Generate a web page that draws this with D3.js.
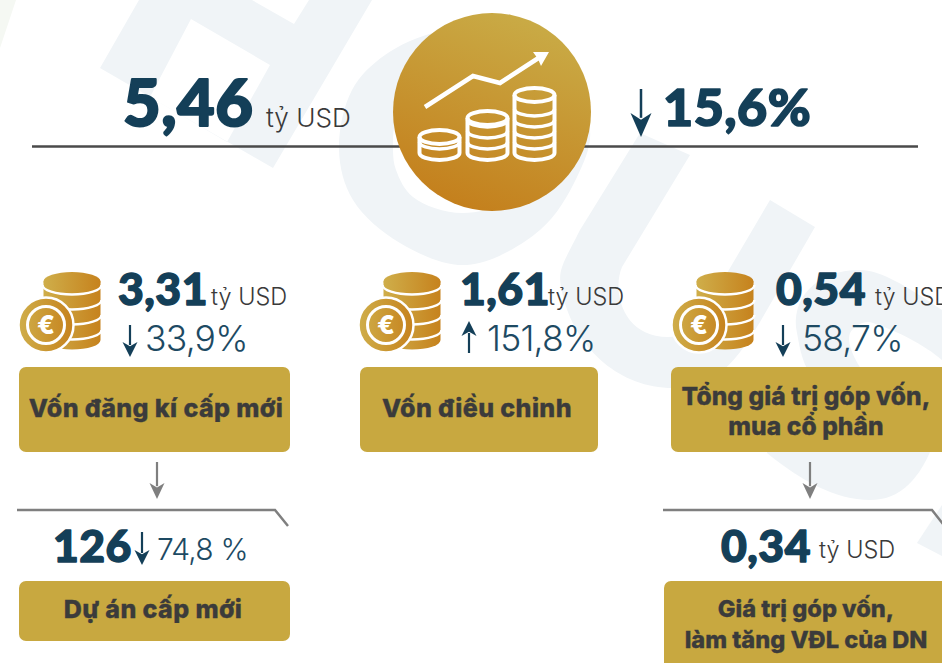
<!DOCTYPE html>
<html lang="vi"><head><meta charset="utf-8">
<script src="https://cdn.jsdelivr.net/npm/d3@7"></script>
<style>
html,body{margin:0;padding:0;background:#fff;overflow:hidden}
svg{display:block}
.num{font-family:Lato,Inter,sans-serif;font-weight:900;fill:#143f58;stroke:#143f58;stroke-linejoin:round;letter-spacing:.5px}
.unit{font-family:Inter,"Noto Sans",sans-serif;font-weight:300;fill:#3a3a3a}
.pct{font-family:Inter,"Noto Sans",sans-serif;font-weight:300;fill:#1d4a63;letter-spacing:-.8px}
.lab{font-family:Inter,"Noto Sans",sans-serif;font-weight:800;fill:#3b3b3b;text-anchor:middle;stroke:#3b3b3b;stroke-width:.35px}
</style></head><body><svg id="c" width="942" height="663"></svg>
<script>
// ---- data
const unitLabel = "tỷ USD";
const totalValue = 5.46;
const totalChange = -15.6;
const categories = ["Vốn đăng kí cấp mới", "Vốn điều chỉnh", "Tổng giá trị góp vốn,|mua cổ phần"];
const categoryValues = [3.31, 1.61, 0.54];
const categoryChanges = [-33.9, 151.8, -58.7];
const subLabels = ["Dự án cấp mới", "Giá trị góp vốn,|làm tăng VĐL của DN"];
const subValues = ["126", 0.34];
const subChanges = [-74.8, null];

// ---- layout
const svg = d3.select("#c");
const loc = d3.formatLocale({decimal:",",thousands:".",grouping:[3],currency:["",""]});
const f2 = loc.format(".2f"), f1 = loc.format(".1f");
const GOLD = "#c8a840", NAVY = "#143f58", GREY = "#7f7f7f";

const defs = svg.append("defs");
function grad(id,x1,y1,x2,y2,a,b){
  const g = defs.append("linearGradient").attr("id",id).attr("x1",x1).attr("y1",y1).attr("x2",x2).attr("y2",y2);
  g.append("stop").attr("offset",0).attr("stop-color",a);
  g.append("stop").attr("offset",1).attr("stop-color",b);
}
grad("gCirc",0.7,0.05,0.35,1,"#c9aa45","#c47f1c");
grad("gCoin",0,0,1,0,"#cfae4a","#c6821d");

function num(g,x,y,size,txt){
  return g.append("text").attr("class","num").attr("x",x).attr("y",y).attr("font-size",size)
    .attr("stroke-width",size*0.032).text(txt);
}

// ---- watermark
const wm = svg.append("g").attr("fill","#f0f4f7");
const closed = d3.line().curve(d3.curveCatmullRomClosed.alpha(0.5));
wm.append("path").attr("fill","#f5f8f3").attr("d","M0 0L16 0L0 48Z");
wm.append("path").attr("fill-rule","evenodd").attr("d",
 "M139 0L100 68L273 168L372 0L309 0L294 24L252 0Z M191 19L270 65L227 142L150 97Z");
wm.append("path").attr("fill-rule","evenodd").attr("d",
  closed([[339,150],[352,90],[385,55],[437,32],[500,30],[560,70],[590,130],[577,177],[540,230],[467,265],[400,243],[353,200]]) +
  closed([[393,150],[396,120],[420,80],[470,60],[530,80],[565,130],[530,190],[463,213],[413,197],[396,170]]));
wm.append("path").attr("d",
 "M640 133L690 155L622 267C612 290 622 337 668 337C690 337 705 318 720 285L770 200L815 227L760 322C730 372 710 388 673 388C620 388 578 350 564 300C556 270 560 270 580 230Z");
wm.append("path").attr("fill-rule","evenodd").attr("d",
 "M942 310C905 285 880 270 860 270C815 270 790 300 797 333C800 350 803 367 815 380L900 380L942 400Z M850 333C855 325 865 320 873 323C895 330 925 345 942 360L942 380L870 380C860 370 845 345 850 333Z");
wm.append("path").attr("d","M767 440L935 440C920 480 900 500 870 500C835 500 800 480 767 453Z");
wm.append("path").attr("d","M917 543L942 505L942 556Z");

// ---- arrows
function arrow(g,x,y0,y1,hw,hl,color,sw){ // from y0 (tail) to y1 (tip)
  const dir = y1>y0?1:-1;
  g.append("line").attr("x1",x).attr("x2",x).attr("y1",y0).attr("y2",y1-dir*hl*0.8)
    .attr("stroke",color).attr("stroke-width",sw);
  g.append("path").attr("fill",color)
    .attr("d",`M${x-hw} ${y1-dir*hl}L${x} ${y1-dir*hl*0.72}L${x+hw} ${y1-dir*hl}L${x} ${y1}Z`);
}

// ---- header
const head = svg.append("g");
head.append("line").attr("x1",32).attr("x2",918).attr("y1",146.5).attr("y2",146.5).attr("stroke","#4a4a4a").attr("stroke-width",2.5);
num(head,123,126,65,f2(totalValue));
head.append("text").attr("class","unit").attr("x",266).attr("y",127).attr("font-size",26.2).text(unitLabel);
num(head,663,126,52,f1(Math.abs(totalChange))+"%");
arrow(head,641,89,137,10.5,24,NAVY,2.5);

// central badge
const badge = head.append("g");
badge.append("circle").attr("cx",492).attr("cy",112).attr("r",99).attr("fill","url(#gCirc)");
badge.append("path").attr("fill","none").attr("stroke","#fff").attr("stroke-width",4.5)
  .attr("d","M425 107L473 76L500 83L540 57");
badge.append("path").attr("fill","#fff").attr("d","M533 52L549 52L541 66L538 59Z");
const stackX = [418,466,513], stackTop=[137,118,95], stackArcs=[1,3,4];
stackX.forEach((x,i)=>{
  const rx=20, ry=7, cx=x+21.5, bot=153, top=stackTop[i];
  const g = badge.append("g").attr("fill","none").attr("stroke","#fff").attr("stroke-width",4);
  g.append("ellipse").attr("cx",cx).attr("cy",top).attr("rx",rx).attr("ry",ry);
  g.append("path").attr("d",`M${cx-rx} ${top}L${cx-rx} ${bot}A${rx} ${ry} 0 0 0 ${cx+rx} ${bot}L${cx+rx} ${top}`);
  d3.range(stackArcs[i]).forEach(k=>{
    const y = bot-11*(k+1);
    g.append("path").attr("stroke-width",3.5).attr("d",`M${cx-rx} ${y}A${rx} ${ry} 0 0 0 ${cx+rx} ${y}`);
  });
});

// ---- coin icon
function coinIcon(g,left,top){
  const cx=left+52, rx=28.5, ry=9.5, t=top+9.5, b=top+68;
  g.append("path").attr("fill","url(#gCoin)")
    .attr("d",`M${cx-rx} ${t}L${cx-rx} ${b}A${rx} ${ry} 0 0 0 ${cx+rx} ${b}L${cx+rx} ${t}Z`);
  g.append("ellipse").attr("cx",cx).attr("cy",t).attr("rx",rx).attr("ry",ry).attr("fill","url(#gCoin)");
  [0,1,2,3].forEach(k=>{
    const y=t+3.5+k*15;
    g.append("path").attr("fill","none").attr("stroke","#fff").attr("stroke-width",2.4)
      .attr("d",`M${cx-rx-1} ${y}A${rx+1} ${ry} 0 0 0 ${cx+rx+1} ${y}`);
  });
  const ex=left+26, ey=top+53;
  g.append("circle").attr("cx",ex).attr("cy",ey).attr("r",27.5).attr("fill","url(#gCoin)").attr("stroke","#fff").attr("stroke-width",2.5);
  g.append("circle").attr("cx",ex).attr("cy",ey).attr("r",18.5).attr("fill","none").attr("stroke","#fff").attr("stroke-width",3);
  g.append("text").attr("x",ex).attr("y",ey+9).attr("text-anchor","middle").attr("font-family","Inter,sans-serif").attr("font-weight",800).attr("font-size",26).attr("fill","#fff").text("€");
}

// ---- label boxes
function box(g,x0,x1,y0,y1,label,baselines,size,cx,ls){
  g.append("rect").attr("x",x0).attr("y",y0).attr("width",x1-x0).attr("height",y1-y0).attr("rx",7).attr("fill",GOLD);
  g.selectAll("text.lab").data(label.split("|")).join("text").attr("class","lab")
    .attr("x",cx).attr("y",(d,i)=>baselines[i]).attr("font-size",size).attr("letter-spacing",ls).text(d=>d);
}

// columns
const colLeft = d3.scaleOrdinal().domain(categories).range([20,360,673]);
const boxSpan = d3.scaleOrdinal().domain(categories).range([[19,290],[360,598],[671,948]]);
const labelX = d3.scaleOrdinal().domain(categories).range([156,477,806]);
const numX = d3.scaleOrdinal().domain(categories).range([118,460,776]);
const unitX = d3.scaleOrdinal().domain(categories).range([211,548,875]);
const pctX = d3.scaleOrdinal().domain(categories).range([145,487,802]);
const arrowX = d3.scaleOrdinal().domain(categories).range([130,469,783]);

const cols = svg.selectAll("g.col").data(categories.map((c,i)=>({c,v:categoryValues[i],d:categoryChanges[i]}))).join("g").attr("class","col");
cols.each(function(d){
  const g = d3.select(this);
  coinIcon(g,colLeft(d.c),272);
  num(g,numX(d.c),305,44.5,f2(d.v));
  g.append("text").attr("class","unit").attr("x",unitX(d.c)).attr("y",305).attr("font-size",23.5).text(unitLabel);
  g.append("text").attr("class","pct").attr("x",pctX(d.c)).attr("y",351).attr("font-size",35.5).text(f1(Math.abs(d.d))+"%");
  if(d.d<0) arrow(g,arrowX(d.c),325,357,7.5,15,NAVY,2.2); else arrow(g,arrowX(d.c),353,321,7.5,15,NAVY,2.2);
  const s = boxSpan(d.c);
  const lines = d.c.split("|").length;
  if(lines>1) box(g,s[0],s[1],367,452,d.c,[405,435],24.5,labelX(d.c),0.1);
  else box(g,s[0],s[1],367,452,d.c,[417],25,labelX(d.c),0.4);
});

// ---- second level
const subs = svg.selectAll("g.sub").data(subLabels.map((l,i)=>({l,v:subValues[i],d:subChanges[i]}))).join("g").attr("class","sub");
const subArrowX=[157,810], subLine=[[17,275,288,526],[663,932,943,524]], subNumX=[53,721];
const subBox=[[19,290,581,641],[664,948,581,672]], subCx=[153,806], subBase=[[618],[617,648]];
const subSize=[25,23.6], subLs=[0.4,0];
subs.each(function(d,i){
  const g=d3.select(this);
  arrow(g,subArrowX[i],462,499,7.5,16,GREY,2.2);
  const L=subLine[i];
  g.append("path").attr("fill","none").attr("stroke",GREY).attr("stroke-width",2.5)
    .attr("d",`M${L[0]} 510L${L[1]} 510L${L[2]} ${L[3]}`);
  num(g,subNumX[i],562,44.5,typeof d.v==="number"?f2(d.v):d.v);
  if(d.d!==null){
    arrow(g,142,532,565,7.5,15,NAVY,2.2);
    g.append("text").attr("class","pct").attr("x",157).attr("y",560).attr("font-size",30).text(f1(Math.abs(d.d))+" %");
  } else {
    g.append("text").attr("class","unit").attr("x",819).attr("y",558).attr("font-size",23.5).text(unitLabel);
  }
  const b=subBox[i];
  box(g,b[0],b[1],b[2],b[3],d.l,subBase[i],subSize[i],subCx[i],subLs[i]);
});
</script></body></html>
